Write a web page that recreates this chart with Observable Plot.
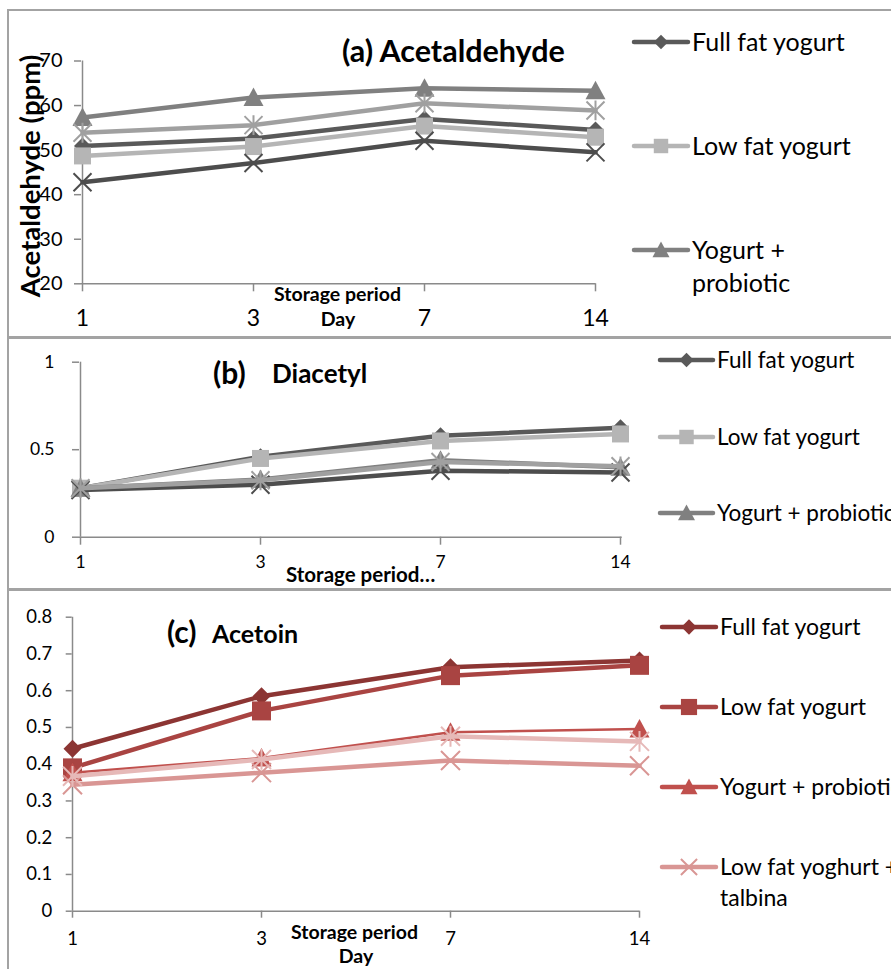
<!DOCTYPE html>
<html>
<head>
<meta charset="utf-8">
<script src="https://cdn.jsdelivr.net/npm/d3@7"></script>
<script src="https://cdn.jsdelivr.net/npm/@observablehq/plot@0.6"></script>
<style>
  html, body { margin: 0; padding: 0; background: #fff; }
  #page { position: relative; width: 891px; height: 969px; overflow: hidden; background: #fff; font-family: Lato, "Open Sans", sans-serif; }
  .holder { position: absolute; left: 0; }
  .holder svg { background: none !important; }
  .box { position: absolute; border: 2px solid #a3a3a3; box-sizing: border-box; pointer-events: none; }
  #overlay { position: absolute; left: 0; top: 0; }
</style>
</head>
<body>
<div id="page">
  <div class="box" style="left:7px;top:9px;width:900px;height:330px"></div>
  <div class="box" style="left:7px;top:336px;width:900px;height:255px"></div>
  <div class="box" style="left:7px;top:588px;width:900px;height:400px"></div>
  <div id="pa" class="holder" style="top:0px"></div>
  <div id="pb" class="holder" style="top:338px"></div>
  <div id="pc" class="holder" style="top:590px"></div>
</div>
<script>
// ---------------- DATA ----------------
const days = ["1", "3", "7", "14"];

// (a) Acetaldehyde (ppm)
const aNames = ["Full fat yogurt", "Low fat yogurt", "Yogurt + probiotic", "Series 4", "Series 5"];
const aFull  = [50.9, 52.6, 57.0, 54.5];
const aLow   = [48.7, 50.8, 55.4, 52.9];
const aProb  = [57.3, 61.8, 63.9, 63.3];
const aS4    = [42.8, 47.1, 52.1, 49.5];
const aS5    = [53.9, 55.6, 60.5, 58.9];
const aTicks = [20, 30, 40, 50, 60, 70];

// (b) Diacetyl
const bNames = ["Full fat yogurt", "Low fat yogurt", "Yogurt + probiotic", "Series 4", "Series 5"];
const bFull  = [0.28, 0.46, 0.58, 0.625];
const bLow   = [0.28, 0.45, 0.55, 0.59];
const bProb  = [0.28, 0.33, 0.44, 0.40];
const bS4    = [0.27, 0.30, 0.38, 0.37];
const bS5    = [0.28, 0.325, 0.43, 0.405];
const bTicks = [0, 0.5, 1];

// (c) Acetoin
const cNames = ["Full fat yogurt", "Low fat yogurt", "Yogurt + probiotic", "Low fat yoghurt + talbina", "Series 5"];
const cFull  = [0.442, 0.585, 0.664, 0.682];
const cLow   = [0.39, 0.545, 0.641, 0.669];
const cProb  = [0.377, 0.417, 0.487, 0.496];
const cTalb  = [0.344, 0.377, 0.41, 0.396];
const cS5    = [0.367, 0.413, 0.476, 0.462];
const cTicks = [0, 0.1, 0.2, 0.3, 0.4, 0.5, 0.6, 0.7, 0.8];

// ---------------- SYMBOLS ----------------
const R = size => Math.sqrt(size / Math.PI);
const symDiamond = { draw(c, s) { const r = R(s); c.moveTo(0, -r); c.lineTo(r, 0); c.lineTo(0, r); c.lineTo(-r, 0); c.closePath(); } };
const symSquare  = { draw(c, s) { const r = R(s); c.rect(-r, -r, 2 * r, 2 * r); } };
const symTri     = { draw(c, s) { const r = R(s); c.moveTo(0, -r); c.lineTo(r, 0.85 * r); c.lineTo(-r, 0.85 * r); c.closePath(); } };
const symTimes   = { draw(c, s) { const r = R(s); c.moveTo(-r, -r); c.lineTo(r, r); c.moveTo(r, -r); c.lineTo(-r, r); } };
const symStar    = { draw(c, s) { const r = R(s); c.moveTo(-r, -r); c.lineTo(r, r); c.moveTo(r, -r); c.lineTo(-r, r); c.moveTo(0, -r * 1.1); c.lineTo(0, r * 1.1); } };

// ---------------- STYLE ----------------
const axisColor = "#8a8a8a";
const greyStyles = [
  {color: "#595959", sym: symDiamond, r: 8.5, filled: true, lw: 4.5},
  {color: "#b5b5b5", sym: symSquare, r: 8.5, filled: true, lw: 4.5},
  {color: "#808080", sym: symTri, r: 10, filled: true, lw: 4.5},
  {color: "#4d4d4d", sym: symTimes, r: 9, filled: false, lw: 4.5},
  {color: "#a0a0a0", sym: symStar, r: 9, filled: false, lw: 4.5}
];
const redStyles = [
  {color: "#8c3533", sym: symDiamond, r: 9, filled: true, lw: 4.5},
  {color: "#a94442", sym: symSquare, r: 9.5, filled: true, lw: 4.5},
  {color: "#c0504d", sym: symTri, r: 10, filled: true, lw: 2.5},
  {color: "#d99694", sym: symTimes, r: 9.5, filled: false, lw: 4.5},
  {color: "#e6b9b8", sym: symStar, r: 9.5, filled: false, lw: 4.5}
];

function rowsOf(values) { return days.map((d, i) => ({day: d, value: values[i]})); }

function panel(cfg) {
  const marks = [
    Plot.ruleY([cfg.yDomain[0]], {stroke: axisColor, strokeWidth: 1.5}),
    Plot.ruleX([days[0]], {stroke: axisColor, strokeWidth: 1.5}),
    Plot.axisY({ticks: cfg.yTicks, tickFormat: d => String(d), tickSize: cfg.yTickSize, tickPadding: cfg.yTickPad,
      fontSize: cfg.yFont, stroke: axisColor, strokeWidth: 1.5, fill: "black", label: null}),
    Plot.axisX({tickSize: cfg.xTickSize, tickPadding: cfg.xTickPad, fontSize: cfg.xFont,
      stroke: axisColor, strokeWidth: 1.5, fill: "black", label: null})
  ];
  cfg.series.forEach((vals, i) => {
    const st = cfg.styles[i];
    const rows = rowsOf(vals);
    marks.push(Plot.line(rows, {x: "day", y: "value", stroke: st.color, strokeWidth: st.lw}));
    marks.push(Plot.dot(rows, {x: "day", y: "value", symbol: st.sym, r: st.r,
      fill: st.filled ? st.color : "none", stroke: st.filled ? "none" : st.color, strokeWidth: st.filled ? 0 : 2}));
  });
  return Plot.plot({
    width: 891, height: cfg.height,
    marginLeft: cfg.mL, marginRight: cfg.mR, marginTop: cfg.mT, marginBottom: cfg.mB,
    x: {type: "point", domain: days, padding: 0},
    y: {domain: cfg.yDomain},
    style: {fontFamily: "Lato, sans-serif", color: "black", background: "none", overflow: "visible"},
    marks
  });
}

document.getElementById("pa").append(panel({
  height: 338, mL: 81, mR: 295.5, mT: 60.5, mB: 54.7,
  yDomain: [20, 70], yTicks: aTicks, yTickSize: 7, yTickPad: 12, yFont: 20,
  xTickSize: 8, xTickPad: 18, xFont: 23,
  series: [aFull, aLow, aProb, aS4, aS5], styles: greyStyles
}));
document.getElementById("pb").append(panel({
  height: 252, mL: 79, mR: 269.3, mT: 23.7, mB: 53.3,
  yDomain: [0, 1], yTicks: bTicks, yTickSize: 7, yTickPad: 18, yFont: 17.5,
  xTickSize: 8, xTickPad: 10, xFont: 17.5,
  series: [bFull, bLow, bProb, bS4, bS5], styles: greyStyles
}));
document.getElementById("pc").append(panel({
  height: 379, mL: 71.7, mR: 251.7, mT: 26.7, mB: 58.3,
  yDomain: [0, 0.8], yTicks: cTicks, yTickSize: 6, yTickPad: 14, yFont: 18.5,
  xTickSize: 7, xTickPad: 14, xFont: 18.5,
  series: [cFull, cLow, cProb, cTalb, cS5], styles: redStyles
}));

// ---------------- OVERLAY TEXT & LEGENDS ----------------
const ov = d3.select("#page").append("svg").attr("id", "overlay")
  .attr("width", 891).attr("height", 969).style("font-family", "Lato, sans-serif");

function txt(x, y, s, size, weight, anchor) {
  return ov.append("text").attr("x", x).attr("y", y).attr("font-size", size)
    .attr("font-weight", weight || "normal").attr("text-anchor", anchor || "start").attr("fill", "black").text(s);
}

// (a)
txt(342, 62, "(a) Acetaldehyde", 30.5, "bold");
ov.append("text").attr("transform", "translate(40,176) rotate(-90)").attr("text-anchor", "middle")
  .attr("font-size", 27.5).attr("font-weight", "bold").text("Acetaldehyde (ppm)");
txt(274, 301, "Storage period", 19.5, "bold");
txt(338, 326, "Day", 19.5, "bold", "middle");
// (b)
txt(213, 384, "(b)", 30, "bold");
txt(272, 383, "Diacetyl", 26, "bold");
txt(286, 582, "Storage period…", 20.5, "bold");
// (c)
txt(167, 643, "(c)", 30, "bold");
txt(212, 643, "Acetoin", 25, "bold");
txt(291, 939, "Storage period", 19.5, "bold");
txt(356, 963, "Day", 19.5, "bold", "middle");

function legend(entries, styles, x0, x1, tx, size) {
  entries.forEach((e, i) => {
    const st = styles[i];
    ov.append("line").attr("x1", x0).attr("x2", x1).attr("y1", e.y).attr("y2", e.y)
      .attr("stroke", st.color).attr("stroke-width", 4.5).attr("stroke-linecap", "round");
    const sz = Math.PI * (st.r * 0.85) ** 2;
    ov.append("path").attr("transform", `translate(${(x0 + x1) / 2},${e.y})`)
      .attr("d", d3.symbol(st.sym, sz)())
      .attr("fill", st.filled ? st.color : "none").attr("stroke", st.filled ? "none" : st.color).attr("stroke-width", 2);
    const lh = e.lh || 0;
    e.lines.forEach((l, j) => txt(tx, e.y + j * lh + size * 0.35, l, size));
  });
}
legend([
  {y: 42, lines: [aNames[0]]},
  {y: 146, lines: [aNames[1]]},
  {y: 250, lines: ["Yogurt +", "probiotic"], lh: 33}
], greyStyles, 634, 688, 692, 25);
legend([
  {y: 360, lines: [bNames[0]]},
  {y: 437, lines: [bNames[1]]},
  {y: 513, lines: [bNames[2]]}
], greyStyles, 660, 713, 717, 22.5);
legend([
  {y: 627, lines: [cNames[0]]},
  {y: 707, lines: [cNames[1]]},
  {y: 787, lines: [cNames[2]]},
  {y: 867, lines: ["Low fat yoghurt +", "talbina"], lh: 31}
], redStyles, 662, 716, 720, 23);
</script>
</body>
</html>
